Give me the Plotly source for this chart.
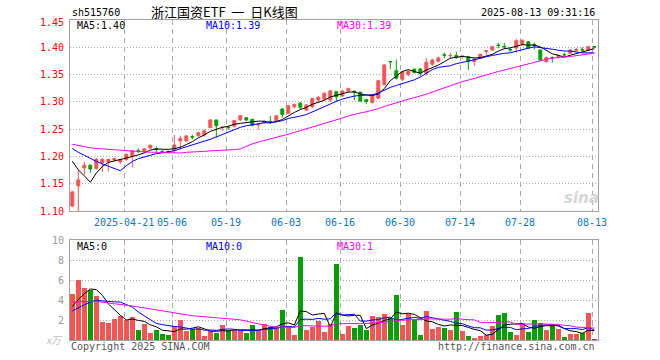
import plotly.graph_objects as go

# ---------------- data ----------------
dates = [
    "2025-04-08", "2025-04-09", "2025-04-10", "2025-04-11", "2025-04-14", "2025-04-15",
    "2025-04-16", "2025-04-17", "2025-04-18", "2025-04-21", "2025-04-22", "2025-04-23",
    "2025-04-24", "2025-04-25", "2025-04-28", "2025-04-29", "2025-04-30",
    "2025-05-06", "2025-05-07", "2025-05-08", "2025-05-09", "2025-05-12", "2025-05-13",
    "2025-05-14", "2025-05-15", "2025-05-16", "2025-05-19", "2025-05-20", "2025-05-21",
    "2025-05-22", "2025-05-23", "2025-05-26", "2025-05-27", "2025-05-28", "2025-05-29",
    "2025-05-30",
    "2025-06-03", "2025-06-04", "2025-06-05", "2025-06-06", "2025-06-09", "2025-06-10",
    "2025-06-11", "2025-06-12", "2025-06-13", "2025-06-16", "2025-06-17", "2025-06-18",
    "2025-06-19", "2025-06-20", "2025-06-23", "2025-06-24", "2025-06-25", "2025-06-26",
    "2025-06-27", "2025-06-30",
    "2025-07-01", "2025-07-02", "2025-07-03", "2025-07-04", "2025-07-07", "2025-07-08",
    "2025-07-09", "2025-07-10", "2025-07-11", "2025-07-14", "2025-07-15", "2025-07-16",
    "2025-07-17", "2025-07-18", "2025-07-21", "2025-07-22", "2025-07-23", "2025-07-24",
    "2025-07-25", "2025-07-28", "2025-07-29", "2025-07-30", "2025-07-31",
    "2025-08-01", "2025-08-04", "2025-08-05", "2025-08-06", "2025-08-07", "2025-08-08",
    "2025-08-11", "2025-08-12", "2025-08-13",
]

opens = [
    1.109, 1.146, 1.179, 1.184, 1.178, 1.1885, 1.190, 1.1935, 1.190, 1.1945,
    1.2005, 1.2105, 1.2090, 1.2155, 1.2145, 1.2095, 1.2090, 1.2106, 1.2285, 1.2285,
    1.2365, 1.2380, 1.2393, 1.2527, 1.2668, 1.2527, 1.2535, 1.2556, 1.2670, 1.2708,
    1.2680, 1.2575, 1.2620, 1.2640, 1.2650, 1.2870, 1.2790, 1.2910, 1.2975, 1.2851,
    1.2910, 1.3034, 1.3050, 1.3034, 1.3187, 1.3110, 1.3199, 1.3195, 1.3175, 1.3040,
    1.2988, 1.3065, 1.3315, 1.3740, 1.3570, 1.3415, 1.3500, 1.3600, 1.3600, 1.3520,
    1.3690, 1.3745, 1.3862, 1.3845, 1.3850, 1.3830, 1.3828, 1.3740, 1.3800, 1.3925,
    1.3950, 1.4040, 1.4015, 1.3960, 1.3985, 1.4050, 1.4100, 1.4045, 1.3950, 1.3737,
    1.3815, 1.3830, 1.3865, 1.3890, 1.3940, 1.3955, 1.3950, 1.4010,
]
highs = [
    1.137, 1.175, 1.190, 1.185, 1.197, 1.197, 1.196, 1.1975, 1.1955, 1.2057,
    1.212, 1.215, 1.2145, 1.2220, 1.218, 1.2120, 1.2110, 1.2393, 1.2380, 1.2390,
    1.2400, 1.2450, 1.2500, 1.2686, 1.2670, 1.2550, 1.2560, 1.2670, 1.2760, 1.2720,
    1.2690, 1.2600, 1.2655, 1.2740, 1.2750, 1.2880, 1.2940, 1.2970, 1.3000, 1.2960,
    1.3070, 1.3110, 1.3180, 1.3210, 1.3200, 1.3220, 1.3260, 1.3205, 1.3190, 1.3050,
    1.3140, 1.3400, 1.3690, 1.3750, 1.3775, 1.3560, 1.3580, 1.3610, 1.3620, 1.3800,
    1.3790, 1.3830, 1.3900, 1.3900, 1.3920, 1.3850, 1.3835, 1.3800, 1.3880, 1.3950,
    1.4020, 1.4080, 1.4080, 1.4000, 1.4160, 1.4140, 1.4110, 1.4080, 1.3960, 1.3830,
    1.3830, 1.3870, 1.3900, 1.3960, 1.3990, 1.4000, 1.4020, 1.4020,
]
lows = [
    1.107, 1.100, 1.166, 1.170, 1.176, 1.172, 1.172, 1.1915, 1.186, 1.192,
    1.180, 1.2065, 1.2075, 1.2140, 1.208, 1.2060, 1.2060, 1.2057, 1.2120, 1.2270,
    1.2310, 1.2360, 1.2360, 1.2515, 1.2344, 1.2470, 1.2490, 1.2530, 1.2650, 1.2650,
    1.2550, 1.2490, 1.2600, 1.2600, 1.2640, 1.2710, 1.2785, 1.2880, 1.2860, 1.2830,
    1.2890, 1.3000, 1.3020, 1.3000, 1.3000, 1.3090, 1.3170, 1.3030, 1.3000, 1.2960,
    1.2970, 1.3050, 1.3300, 1.3600, 1.3410, 1.3380, 1.3470, 1.3520, 1.3470, 1.3480,
    1.3660, 1.3720, 1.3800, 1.3790, 1.3790, 1.3790, 1.3584, 1.3660, 1.3790, 1.3860,
    1.3940, 1.3980, 1.3970, 1.3920, 1.3900, 1.4030, 1.3970, 1.3960, 1.3750, 1.3720,
    1.3720, 1.3790, 1.3830, 1.3880, 1.3920, 1.3930, 1.3940, 1.3995,
]
closes = [
    1.135, 1.157, 1.184, 1.177, 1.195, 1.1945, 1.1945, 1.196, 1.1945, 1.2035,
    1.2105, 1.2100, 1.2140, 1.2205, 1.2130, 1.2090, 1.2080, 1.2210, 1.2330, 1.2375,
    1.2355, 1.2435, 1.2466, 1.2668, 1.2564, 1.2533, 1.2528, 1.2660, 1.2745, 1.2668,
    1.2570, 1.2590, 1.2645, 1.2635, 1.2745, 1.2768, 1.2928, 1.2950, 1.2900, 1.2943,
    1.3060, 1.3083, 1.3157, 1.3202, 1.3095, 1.3197, 1.3240, 1.3180, 1.3016, 1.3008,
    1.3126, 1.3388, 1.3676, 1.3735, 1.3432, 1.3553, 1.3560, 1.3540, 1.3530, 1.3725,
    1.3767, 1.3805, 1.3855, 1.3850, 1.3810, 1.3840, 1.3740, 1.3786, 1.3871, 1.3940,
    1.4012, 1.4035, 1.4010, 1.3950, 1.4120, 1.4130, 1.3985, 1.4035, 1.3767, 1.3810,
    1.3805, 1.3850, 1.3860, 1.3950, 1.3960, 1.3950, 1.4012, 1.4005,
]
# volume, unit: 万 (as on the chart's left axis)
volumes = [
    4.6, 6.0, 5.2, 5.0, 4.4, 1.8, 1.7, 2.1, 2.4, 2.0,
    2.3, 1.0, 1.6, 0.7, 1.0, 0.6, 0.5, 1.4, 2.0, 0.9,
    1.1, 1.2, 0.4, 0.9, 0.7, 1.5, 1.0, 1.0, 0.9, 0.7,
    1.5, 0.9, 1.6, 1.3, 1.3, 3.0, 1.4, 0.5, 8.3, 1.0,
    1.3, 1.9, 0.8, 1.6, 7.6, 0.6, 1.4, 1.2, 1.5, 1.0,
    2.4, 2.3, 2.6, 2.2, 4.5, 1.5, 2.6, 2.0, 0.5, 2.9,
    1.1, 1.3, 1.2, 1.0, 2.8, 0.9, 0.4, 0.2, 0.4, 0.5,
    1.4, 2.5, 2.7, 0.8, 0.5, 1.7, 0.8, 2.0, 1.7, 1.0,
    1.6, 1.1, 0.3, 0.6, 0.6, 0.7, 2.7, 0.1,
]

# sessions before the visible window (not drawn), estimated from where the
# moving-average lines start at the left edge of the reference
pre_closes = [
    1.232, 1.244, 1.236, 1.228, 1.222, 1.225, 1.231, 1.226, 1.220, 1.224,
    1.230, 1.235, 1.232, 1.228, 1.226, 1.230, 1.233, 1.212, 1.200, 1.205,
    1.232, 1.236, 1.241, 1.244, 1.240, 1.236, 1.239, 1.236, 1.110,
]
pre_volumes = [
    4.8, 5.5, 4.2, 3.9, 4.6, 5.1, 3.6, 4.0, 4.4, 3.8,
    4.3, 4.9, 3.7, 4.1, 3.9, 4.5, 4.0, 3.8, 4.2, 3.7,
    2.6, 2.3, 2.5, 2.4, 2.5, 2.5, 2.3, 2.6, 4.7,
]

tick_dates = ["2025-04-21", "2025-05-06", "2025-05-19", "2025-06-03", "2025-06-16",
              "2025-06-30", "2025-07-14", "2025-07-28", "2025-08-13"]
tick_labels = ["2025-04-21", "05-06", "05-19", "06-03", "06-16",
               "06-30", "07-14", "07-28", "08-13"]
price_ticks = [1.10, 1.15, 1.20, 1.25, 1.30, 1.35, 1.40, 1.45]
vol_ticks = [2, 4, 6, 8, 10]

code = "sh515760"
title = "浙江国资ETF&nbsp;&nbsp;一&nbsp;&nbsp;日K线图"
stamp = "2025-08-13 09:31:16"
ma_price_text = ["MA5:1.40", "MA10:1.39", "MA30:1.39"]
ma_vol_text = ["MA5:0", "MA10:0", "MA30:1"]

# ---------------- styling ----------------
W, H = 660, 360
RED = "#f85454"
GREEN = "#00a000"
MA_COLORS = ["#000000", "#0000ff", "#ff00ff"]
MA_N = [5, 10, 30]
MONO = "DejaVu Sans Mono"
GRID = "#a8a8a8"
BORDER = "#a0a0a0"


def px(x):
    return x / W


def py(y):
    return 1 - y / H


def moving_average(pre, vals, n):
    full = list(pre) + list(vals)
    off = len(pre)
    out = []
    for k in range(len(vals)):
        win = full[off + k - n + 1: off + k + 1]
        out.append(sum(win) / len(win))
    return out


idx = list(range(len(dates)))
colors = [RED if c >= o else GREEN for o, c in zip(opens, closes)]
grid_pos = [dates.index(d) - 1 / 3 for d in tick_dates]

fig = go.Figure()
fig.add_trace(go.Candlestick(
    x=idx, open=opens, high=highs, low=lows, close=closes,
    increasing=dict(line=dict(color=RED, width=1), fillcolor=RED),
    decreasing=dict(line=dict(color=GREEN, width=1), fillcolor=GREEN),
    whiskerwidth=0, xaxis="x", yaxis="y", hoverinfo="skip",
))
for n, col in zip(MA_N, MA_COLORS):
    fig.add_trace(go.Scatter(
        x=idx, y=moving_average(pre_closes, closes, n), mode="lines",
        line=dict(color=col, width=1), xaxis="x", yaxis="y", hoverinfo="skip",
    ))

fig.add_trace(go.Bar(
    x=idx, y=volumes, marker=dict(color=colors, line=dict(width=0)),
    width=0.82, xaxis="x2", yaxis="y2", hoverinfo="skip",
))
for n, col in zip(MA_N, MA_COLORS):
    fig.add_trace(go.Scatter(
        x=idx, y=moving_average(pre_volumes, volumes, n), mode="lines",
        line=dict(color=col, width=1), xaxis="x2", yaxis="y2", hoverinfo="skip",
    ))

x_range = [(70 - 72.3) / 6, (598 - 72.3) / 6]
xcommon = dict(
    domain=[px(70), px(598)], range=x_range, tickvals=grid_pos,
    showticklabels=False, ticks="", showgrid=True, gridcolor=GRID,
    griddash="5px,4px", gridwidth=1, zeroline=False, showline=True,
    linecolor=BORDER, linewidth=1, mirror=True, fixedrange=True,
)
ycommon = dict(
    showticklabels=False, ticks="", showgrid=True, gridcolor=GRID,
    griddash="1px,2px", gridwidth=1, zeroline=False, showline=True,
    linecolor=BORDER, linewidth=1, mirror=True, fixedrange=True,
)

annotations = []
F = lambda size, color: dict(family=MONO, size=size, color=color)

# header
annotations.append(dict(text=code, x=px(70), y=py(13), xref="paper", yref="paper",
                        xanchor="left", yanchor="middle", showarrow=False, font=F(10, "#000")))
annotations.append(dict(text=title, x=px(224), y=py(12), xref="paper", yref="paper",
                        xanchor="center", yanchor="middle", showarrow=False,
                        font=dict(family="Noto Sans CJK SC", size=13, color="#000")))
annotations.append(dict(text=stamp, x=px(597), y=py(13), xref="paper", yref="paper",
                        xanchor="right", yanchor="middle", showarrow=False, font=F(10, "#000")))

# MA legends
for t, col, xx in zip(ma_price_text, MA_COLORS, [75, 204, 335]):
    annotations.append(dict(text=t, x=px(xx), y=py(26), xref="paper", yref="paper",
                            xanchor="left", yanchor="middle", showarrow=False, font=F(10, col)))
for t, col, xx in zip(ma_vol_text, MA_COLORS, [75, 204, 335]):
    annotations.append(dict(text=t, x=px(xx), y=py(246), xref="paper", yref="paper",
                            xanchor="left", yanchor="middle", showarrow=False, font=F(10, col)))

# price axis labels
for v in price_ticks:
    shift = -2 if v == price_ticks[-1] else 0
    annotations.append(dict(text=f"{v:.2f}", x=px(66), y=v, xref="paper", yref="y",
                            xanchor="right", yanchor="middle", yshift=shift, showarrow=False,
                            font=F(10, "#ff0000")))
# volume axis labels
for v in vol_ticks:
    annotations.append(dict(text=str(v), x=px(66), y=v, xref="paper", yref="y2",
                            xanchor="right", yanchor="middle", showarrow=False,
                            font=F(10, "#9a9a9a")))
annotations.append(dict(text="<i>x万</i>", x=px(65), y=py(339), xref="paper", yref="paper",
                        xanchor="right", yanchor="middle", showarrow=False,
                        font=dict(family="Noto Sans CJK SC", size=10, color="#c0c0c0")))

# date labels
for d, lab in zip(tick_dates, tick_labels):
    annotations.append(dict(text=lab, x=dates.index(d) - 1 / 3, y=py(222), xref="x", yref="paper",
                            xanchor="center", yanchor="middle", showarrow=False,
                            font=F(10, "#0a78c8")))

# footer
annotations.append(dict(text="Copyright 2025 SINA.COM", x=px(69), y=py(346), xref="paper",
                        yref="paper", xanchor="left", yanchor="middle", showarrow=False,
                        font=F(10, "#555555")))
annotations.append(dict(text="http://finance.sina.com.cn", x=px(597), y=py(346), xref="paper",
                        yref="paper", xanchor="right", yanchor="middle", showarrow=False,
                        font=F(10, "#555555")))
# watermark
annotations.append(dict(text="<b><i>sina</i></b>", x=px(581), y=py(198), xref="paper",
                        yref="paper", xanchor="center", yanchor="middle", showarrow=False,
                        font=dict(family="DejaVu Sans", size=15, color="#d6d6d6")))

fig.update_layout(
    width=W, height=H, margin=dict(l=0, r=0, t=0, b=0),
    paper_bgcolor="#ffffff", plot_bgcolor="#ffffff", showlegend=False,
    xaxis=dict(anchor="y", rangeslider=dict(visible=False), **xcommon),
    xaxis2=dict(anchor="y2", **xcommon),
    yaxis=dict(anchor="x", domain=[py(211), py(20)], range=[1.10, 1.45],
               tickvals=price_ticks[1:-1], **ycommon),
    yaxis2=dict(anchor="x2", domain=[py(340), py(240)], range=[0, 10],
                tickvals=vol_ticks[:-1], **ycommon),
    annotations=annotations,
    bargap=0,
)

fig.write_html("out.html", config={"displayModeBar": False, "staticPlot": True})
